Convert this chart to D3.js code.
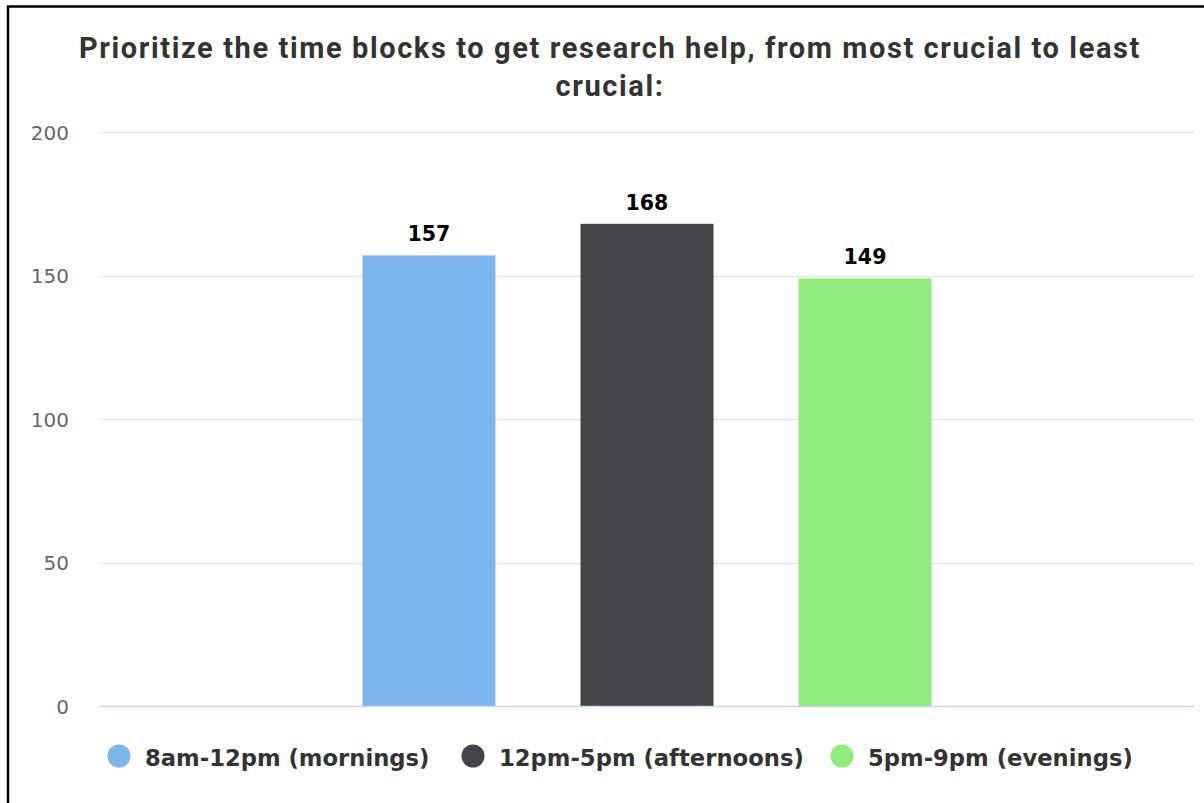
<!DOCTYPE html>
<html>
<head>
<meta charset="utf-8">
<script src="https://cdn.jsdelivr.net/npm/d3@7"></script>
<style>
  body { margin: 0; background: #fff; }
  svg { display: block; }
</style>
</head>
<body>
<div id="chart"></div>
<script>
// chart data
const seriesNames = ["8am-12pm (mornings)", "12pm-5pm (afternoons)", "5pm-9pm (evenings)"];
const seriesValues = [157, 168, 149];
const seriesColors = ["#7cb5ec", "#434348", "#90ed7d"];
const yTicks = [0, 50, 100, 150, 200];
const titleLines = ["Prioritize the time blocks to get research help, from most crucial to least", "crucial:"];

const svgWidth = 1204, svgHeight = 803;
const margin = { top: 132, right: 10, bottom: 97, left: 100 };
const width = svgWidth - margin.left - margin.right;
const height = svgHeight - margin.top - margin.bottom;

const svg = d3.select("#chart")
  .append("svg")
  .attr("width", svgWidth)
  .attr("height", svgHeight);

// frame round the chart (left + top only, as in the screenshot)
svg.append("path")
  .attr("d", `M8,${svgHeight} V6.5 H${svgWidth}`)
  .attr("fill", "none")
  .attr("stroke", "#000")
  .attr("stroke-width", 2.5);

// title
svg.append("text")
  .attr("x", 610)
  .attr("y", 58)
  .attr("text-anchor", "middle")
  .attr("font-family", "Roboto")
  .attr("font-weight", "bold")
  .attr("font-size", 29)
  .attr("letter-spacing", 1.6)
  .attr("fill", "#333")
  .selectAll("tspan")
  .data(titleLines)
  .enter()
  .append("tspan")
  .attr("x", 610)
  .attr("dy", (d, i) => i === 0 ? 0 : 38)
  .text(d => d);

const chart = svg.append("g")
  .attr("transform", `translate(${margin.left}, ${margin.top})`);

const xScale = d3.scaleBand()
  .domain(seriesNames)
  .range([0, width])
  .paddingInner(0.39)
  .paddingOuter(1.204);

const yScale = d3.scaleLinear()
  .domain([0, 200])
  .range([height, 0]);

// gridlines
chart.append("g")
  .selectAll("line")
  .data(yTicks.filter(d => d > 0))
  .enter()
  .append("line")
  .attr("x1", 0)
  .attr("x2", width)
  .attr("y1", d => Math.round(yScale(d)) + 0.5)
  .attr("y2", d => Math.round(yScale(d)) + 0.5)
  .attr("stroke", "#e6e6e6")
  .attr("stroke-width", 1.5);

// y axis labels
const yAxis = chart.append("g")
  .call(d3.axisLeft(yScale).tickValues(yTicks).tickSize(0).tickPadding(31));
yAxis.select(".domain").remove();
yAxis.selectAll("text")
  .attr("font-family", "DejaVu Sans")
  .attr("font-size", 20)
  .attr("fill", "#666")
  .attr("dy", "0.35em");

// bars
chart.selectAll(".bar")
  .data(seriesNames)
  .enter()
  .append("rect")
  .attr("class", "bar")
  .attr("x", d => xScale(d))
  .attr("y", (d, i) => yScale(seriesValues[i]))
  .attr("width", xScale.bandwidth())
  .attr("height", (d, i) => height - yScale(seriesValues[i]))
  .attr("fill", (d, i) => seriesColors[i]);

// baseline
chart.append("line")
  .attr("x1", 0)
  .attr("x2", width)
  .attr("y1", height + 0.5)
  .attr("y2", height + 0.5)
  .attr("stroke", "#ccd6eb")
  .attr("stroke-width", 1.5);

// data labels
chart.selectAll(".label")
  .data(seriesNames)
  .enter()
  .append("text")
  .attr("class", "label")
  .attr("x", d => xScale(d) + xScale.bandwidth() / 2)
  .attr("y", (d, i) => yScale(seriesValues[i]) - 14)
  .attr("text-anchor", "middle")
  .attr("font-family", "DejaVu Sans")
  .attr("font-weight", "bold")
  .attr("font-size", 20.5)
  .attr("fill", "#000")
  .text((d, i) => seriesValues[i]);

// legend
const legendX = [119, 473, 842];
const legend = svg.append("g");
const item = legend.selectAll("g")
  .data(seriesNames)
  .enter()
  .append("g")
  .attr("transform", (d, i) => `translate(${legendX[i]}, 756)`);

item.append("circle")
  .attr("r", 11.5)
  .attr("fill", (d, i) => seriesColors[i]);

item.append("text")
  .attr("x", 26)
  .attr("y", 10)
  .attr("font-family", "DejaVu Sans")
  .attr("font-weight", "bold")
  .attr("font-size", 22.7)
  .attr("fill", "#333")
  .text(d => d);
</script>
</body>
</html>
